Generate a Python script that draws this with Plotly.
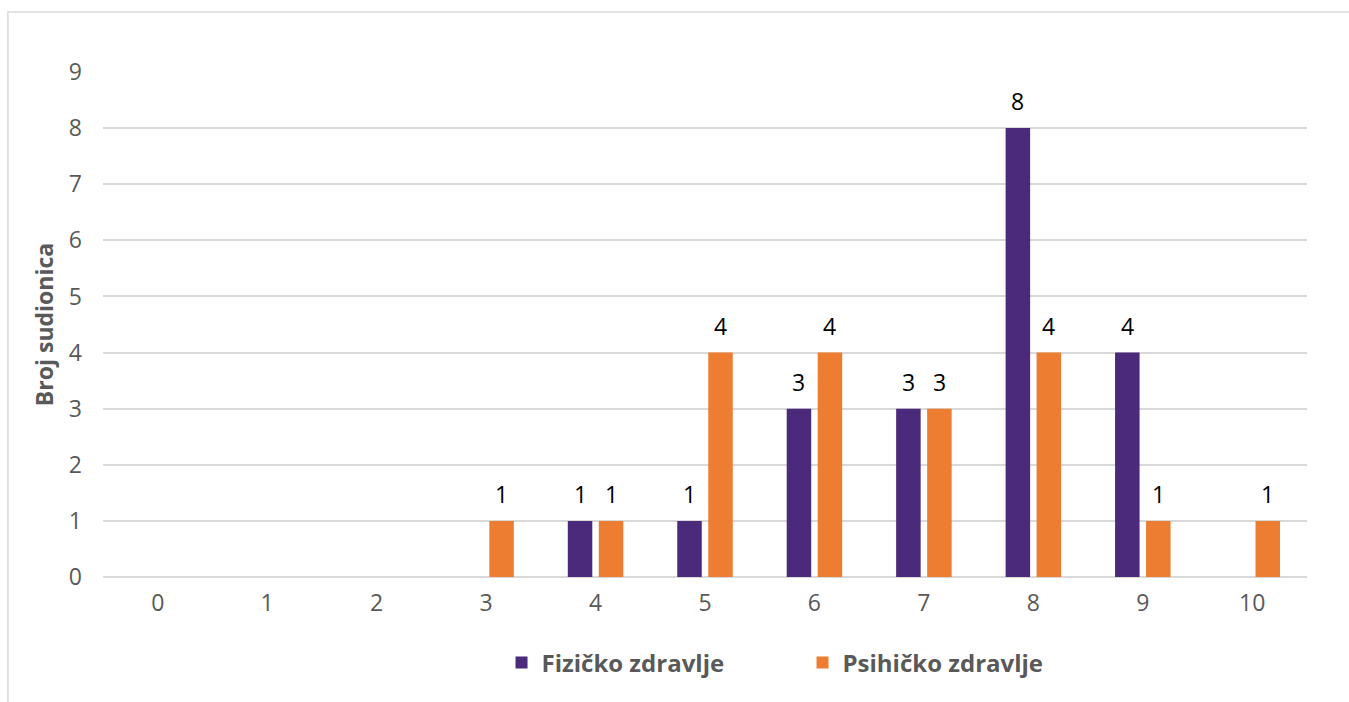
import plotly.graph_objects as go

# Ocjene (0-10) i broj sudionica po ocjeni
categories = [0, 1, 2, 3, 4, 5, 6, 7, 8, 9, 10]
fizicko = [0, 0, 0, 0, 1, 1, 3, 3, 8, 4, 0]
psihicko = [0, 0, 0, 1, 1, 4, 4, 3, 4, 1, 1]
series_names = ["Fizičko zdravlje", "Psihičko zdravlje"]
y_ticks = [0, 1, 2, 3, 4, 5, 6, 7, 8, 9]

PURPLE = "#4B2A7B"
ORANGE = "#ED7D31"
GRAY = "#595959"
GRID = "#D9D9D9"
FONT = "'Open Sans', sans-serif"

BAR_W = 0.224          # bar width in category units
HALF_STEP = 0.1416     # distance of each bar centre from the category centre
offsets = [-HALF_STEP - BAR_W / 2, HALF_STEP - BAR_W / 2]
colors = [PURPLE, ORANGE]

fig = go.Figure()
annotations = []
for name, vals, off, col in zip(series_names, [fizicko, psihicko], offsets, colors):
    fig.add_trace(go.Bar(
        x=categories, y=vals, name=name,
        width=BAR_W, offset=off,
        marker=dict(color=col, line=dict(width=0)),
        hoverinfo="x+y+name",
    ))
    for c, v in zip(categories, vals):
        if v:
            annotations.append(dict(
                x=c + off + BAR_W / 2, y=v, xref="x", yref="y",
                text=str(v), showarrow=False, yshift=27,
                font=dict(family=FONT, size=23, color="#000000"),
            ))

fig.update_layout(
    width=1349, height=702,
    margin=dict(l=103, r=42, t=72, b=125),
    paper_bgcolor="white", plot_bgcolor="white",
    barmode="overlay",
    showlegend=True,
    legend=dict(
        orientation="h", x=0.331, xanchor="left", y=-0.17, yanchor="middle",
        font=dict(family=FONT, size=24, color=GRAY, weight="bold"),
        itemwidth=30, traceorder="normal",
        entrywidth=256, entrywidthmode="pixels",
    ),
    annotations=annotations,
    shapes=[dict(
        type="rect", xref="paper", yref="paper",
        x0=-0.079, x1=1.05, y0=-0.5, y1=1.119,
        line=dict(color=GRID, width=1.5), fillcolor="rgba(0,0,0,0)", layer="below",
    )],
)

fig.update_xaxes(
    range=[-0.5, 10.5], tickmode="array", tickvals=categories,
    ticktext=[str(c) for c in categories],
    showgrid=False, zeroline=False, showline=False, ticks="",
    ticklabelstandoff=10,
    tickfont=dict(family=FONT, size=23, color=GRAY),
)
fig.update_yaxes(
    range=[0, 9], tickmode="array", tickvals=y_ticks,
    showgrid=True, gridcolor=GRID, gridwidth=1.5,
    zeroline=True, zerolinecolor=GRID, zerolinewidth=1.5,
    showline=False, ticks="", ticklabelstandoff=20,
    tickfont=dict(family=FONT, size=23, color=GRAY),
    title=dict(text="Broj sudionica", standoff=8,
               font=dict(family=FONT, size=23, color=GRAY, weight="bold")),
)

fig.write_html("out.html")
